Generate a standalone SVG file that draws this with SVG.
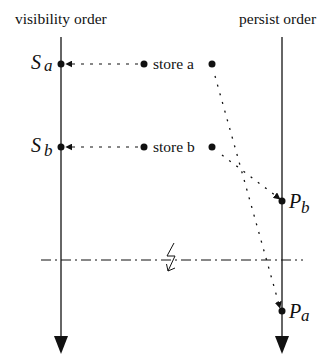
<svg xmlns="http://www.w3.org/2000/svg" width="329" height="354" viewBox="0 0 329 354">
<style>
.t{font-family:"Liberation Serif","DejaVu Serif",serif;font-size:15.5px;fill:#111}
.m{font-family:"Liberation Serif","DejaVu Serif",serif;font-style:italic;font-size:20px;fill:#111}
.s{font-family:"Liberation Serif","DejaVu Serif",serif;font-style:italic;font-size:17px;fill:#111}
.axis{stroke:#333;stroke-width:1.5;fill:none}
.dash{stroke:#111;stroke-width:1.2;stroke-dasharray:3 6;fill:none}
.dot{stroke:#111;stroke-width:1.3;stroke-dasharray:2 7;fill:none}
</style>
<defs>
<marker id="ah" viewBox="0 0 10 10" refX="9" refY="5" markerWidth="7" markerHeight="7" orient="auto" markerUnits="userSpaceOnUse"><path d="M0,0 L10,5 L0,10 z" fill="#111"/></marker>
</defs>
<g id="labels">
<text class="t" x="15" y="24">visibility order</text>
<text class="t" x="239" y="24">persist order</text>
</g>
<g id="axes">
<line class="axis" x1="61" y1="37" x2="61" y2="338"/>
<path d="M54,336 L68,336 L61,354 z" fill="#111"/>
<line class="axis" x1="282" y1="37" x2="282" y2="338"/>
<path d="M275,336 L289,336 L282,354 z" fill="#111"/>
</g>
<g id="connectors">
<line class="dash" x1="138" y1="64" x2="66" y2="64" marker-end="url(#ah)"/>
<line class="dash" x1="138" y1="147" x2="66" y2="147" marker-end="url(#ah)"/>
<line class="dot" x1="215" y1="76" x2="280" y2="308" marker-end="url(#ah)"/>
<line class="dot" x1="222" y1="155" x2="280" y2="199" marker-end="url(#ah)"/>
<line x1="41" y1="260" x2="303" y2="260" stroke="#111" stroke-width="1" stroke-dasharray="10 4 2 4"/>
</g>
<g id="crash">
<path d="M174,243 L167,256 L175,256 L168,271 M168,271 L166.5,264 M168,271 L175,268" stroke="#111" stroke-width="1" fill="none"/>
</g>
<g id="Sa">
<circle cx="61" cy="64" r="3.5" fill="#111"/>
<text class="m" x="31" y="69">S</text><text class="s" x="44" y="71">a</text>
</g>
<g id="Sb">
<circle cx="61" cy="147" r="3.5" fill="#111"/>
<text class="m" x="31" y="152">S</text><text class="s" x="44" y="156">b</text>
</g>
<g id="storea">
<circle cx="144" cy="64" r="3.5" fill="#111"/>
<text class="t" x="153" y="69">store a</text>
<circle cx="212" cy="64" r="3.5" fill="#111"/>
</g>
<g id="storeb">
<circle cx="144" cy="147" r="3.5" fill="#111"/>
<text class="t" x="153" y="152">store b</text>
<circle cx="212" cy="147" r="3.5" fill="#111"/>
</g>
<g id="Pb">
<circle cx="282" cy="201" r="3.5" fill="#111"/>
<text class="m" x="289" y="208">P</text><text class="s" x="301" y="213">b</text>
</g>
<g id="Pa">
<circle cx="282" cy="311" r="3.5" fill="#111"/>
<text class="m" x="289" y="318">P</text><text class="s" x="301" y="321">a</text>
</g>
</svg>
